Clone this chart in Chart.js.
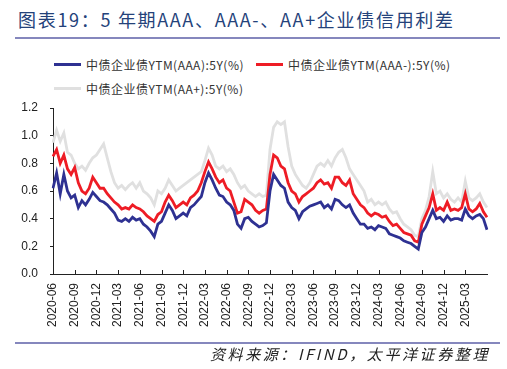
<!DOCTYPE html>
<html>
<head>
<meta charset="utf-8">
<script src="https://cdn.jsdelivr.net/npm/chart.js@4.4.1/dist/chart.umd.min.js"></script>
<style>
  html, body { margin: 0; padding: 0; background: #fff; }
  body { width: 507px; height: 369px; position: relative; overflow: hidden; font-family: "Noto Sans CJK SC", "Liberation Sans", sans-serif; }
  #title { position: absolute; left: 18px; top: 6px; font-size: 18px; letter-spacing: 1.7px; color: #24427a; white-space: nowrap; }
  .rule { position: absolute; left: 15px; width: 485px; height: 2px; background: #8587bd; }
  #legend { position: absolute; left: 54px; top: 52px; width: 440px; font-size: 12px; color: #333; letter-spacing: 0.5px; }
  .item { display: inline-flex; align-items: center; height: 22px; margin-right: 12px; white-space: nowrap; }
  .swatch { display: inline-block; width: 27px; height: 3px; margin-right: 5px; }
  #source { position: absolute; right: 17px; top: 343px; font-size: 15px; font-style: italic; letter-spacing: 2.6px; color: #222; white-space: nowrap; }
  #chart { position: absolute; left: 0; top: 0; }
</style>
</head>
<body>
<div id="title">图表19：5 年期AAA、AAA-、AA+企业债信用利差</div>
<div class="rule" style="top:37px"></div>
<div id="legend"></div>
<canvas id="chart" width="507" height="369"></canvas>
<div class="rule" style="top:342px"></div>
<div id="source">资料来源：IFIND，太平洋证券整理</div>

<script>
// categorias: fechas cada medio mes, 2020-06 a 2025-06
const fechas = [];
for (let i = 0; i <= 120; i++) {
    const mes = 5 + Math.floor(i / 2);
    const anio = 2020 + Math.floor(mes / 12);
    const mm = String(mes % 12 + 1).padStart(2, '0');
    fechas.push(`${anio}-${mm}-${i % 2 === 0 ? '01' : '16'}`);
}

const etiquetasX = ['2020-06','2020-09','2020-12','2021-03','2021-06','2021-09','2021-12','2022-03','2022-06','2022-09',
                    '2022-12','2023-03','2023-06','2023-09','2023-12','2024-03','2024-06','2024-09','2024-12','2025-03'];

// Series (%)
const serieAAA = [
    0.62,0.73,0.58,0.72,0.60,0.55,0.57,0.48,0.53,0.50,
    0.54,0.59,0.56,0.53,0.52,0.50,0.47,0.44,0.39,0.38,
    0.40,0.38,0.41,0.39,0.40,0.36,0.34,0.31,0.27,0.36,
    0.38,0.44,0.50,0.46,0.40,0.42,0.44,0.42,0.48,0.50,
    0.53,0.56,0.66,0.73,0.68,0.62,0.57,0.56,0.52,0.50,
    0.46,0.36,0.33,0.40,0.41,0.38,0.36,0.34,0.35,0.37,
    0.60,0.72,0.68,0.64,0.62,0.52,0.48,0.46,0.40,0.45,
    0.47,0.49,0.50,0.51,0.52,0.48,0.50,0.47,0.54,0.53,
    0.50,0.48,0.50,0.44,0.40,0.36,0.36,0.33,0.34,0.32,
    0.35,0.34,0.33,0.29,0.28,0.27,0.26,0.24,0.23,0.22,
    0.20,0.18,0.30,0.34,0.40,0.46,0.40,0.41,0.38,0.42,
    0.39,0.40,0.40,0.39,0.47,0.42,0.40,0.42,0.43,0.40,
    0.32
];
const serieAAAm = [
    0.85,0.90,0.80,0.86,0.76,0.72,0.77,0.66,0.60,0.58,
    0.62,0.70,0.66,0.62,0.62,0.58,0.55,0.52,0.50,0.47,
    0.48,0.47,0.50,0.48,0.47,0.45,0.42,0.40,0.38,0.43,
    0.45,0.52,0.57,0.53,0.48,0.50,0.52,0.50,0.55,0.57,
    0.60,0.66,0.74,0.81,0.76,0.70,0.66,0.68,0.62,0.60,
    0.52,0.44,0.45,0.54,0.52,0.50,0.46,0.44,0.46,0.47,
    0.72,0.86,0.84,0.78,0.76,0.66,0.60,0.58,0.52,0.56,
    0.58,0.60,0.62,0.66,0.68,0.65,0.66,0.62,0.70,0.70,
    0.66,0.64,0.68,0.58,0.54,0.50,0.48,0.44,0.42,0.44,
    0.43,0.41,0.42,0.38,0.35,0.36,0.33,0.30,0.29,0.28,
    0.24,0.23,0.36,0.42,0.48,0.58,0.46,0.48,0.46,0.52,
    0.46,0.47,0.46,0.48,0.58,0.47,0.45,0.47,0.51,0.45,
    0.41
];
const serieAAp = [
    0.95,1.04,0.96,1.02,0.88,0.86,0.80,0.76,0.78,0.75,
    0.80,0.84,0.86,0.90,0.94,0.84,0.74,0.66,0.62,0.64,
    0.61,0.64,0.66,0.62,0.66,0.60,0.58,0.55,0.50,0.60,
    0.58,0.62,0.68,0.64,0.60,0.62,0.64,0.66,0.68,0.70,
    0.72,0.74,0.82,0.91,0.86,0.78,0.76,0.78,0.74,0.76,
    0.72,0.66,0.62,0.64,0.60,0.58,0.56,0.58,0.56,0.57,
    0.90,1.06,1.10,1.08,1.10,0.92,0.78,0.72,0.68,0.64,
    0.62,0.66,0.72,0.78,0.80,0.78,0.82,0.78,0.84,0.88,
    0.90,0.84,0.76,0.72,0.68,0.64,0.60,0.52,0.54,0.50,
    0.52,0.50,0.52,0.47,0.44,0.45,0.40,0.36,0.34,0.32,
    0.28,0.27,0.40,0.46,0.56,0.74,0.58,0.60,0.55,0.58,
    0.54,0.52,0.55,0.52,0.67,0.55,0.53,0.55,0.58,0.52,
    0.48
];

const series = [
    { label: '中债企业债YTM(AAA):5Y(%)', data: serieAAA, color: '#2e3192' },
    { label: '中债企业债YTM(AAA-):5Y(%)', data: serieAAAm, color: '#ee1c25' },
    { label: '中债企业债YTM(AA+):5Y(%)', data: serieAAp, color: '#e0e0e0' }
];

// Leyenda en HTML
const leyenda = document.getElementById('legend');
series.forEach(s => {
    const span = document.createElement('span');
    span.className = 'item';
    span.innerHTML = `<span class="swatch" style="background:${s.color}"></span>${s.label}`;
    leyenda.appendChild(span);
});

// ticks hacia adentro en el eje x
const ticksInternos = {
    id: 'ticksInternos',
    afterDraw(chart) {
        const x = chart.scales.x;
        const ctx = chart.ctx;
        const base = chart.chartArea.bottom;
        ctx.save();
        ctx.strokeStyle = '#222';
        ctx.lineWidth = 1;
        etiquetasX.forEach((e, i) => {
            const px = Math.round(x.getPixelForValue(i * 6)) + 0.5;
            ctx.beginPath();
            ctx.moveTo(px, base);
            ctx.lineTo(px, base - 4);
            ctx.stroke();
        });
        ctx.restore();
    }
};

const ctx = document.getElementById('chart').getContext('2d');
new Chart(ctx, {
    type: 'line',
    data: {
        labels: fechas,
        datasets: series.map(s => ({
            label: s.label, data: s.data, borderColor: s.color,
            borderWidth: 2.8, pointRadius: 0, tension: 0, fill: false
        }))
    },
    options: {
        responsive: false,
        animation: false,
        devicePixelRatio: 1,
        layout: { padding: { top: 108, left: 17, right: 20, bottom: 39 } },
        plugins: { legend: { display: false }, tooltip: { enabled: false } },
        scales: {
            x: {
                grid: { display: false, drawTicks: false, tickLength: 0 },
                border: { color: '#222', width: 1 },
                afterFit: s => { s.height = 56; },
                ticks: {
                    autoSkip: false, maxRotation: 90, minRotation: 90, padding: 9,
                    color: '#222', font: { size: 12, family: 'Liberation Sans' },
                    callback: (v, i) => (i % 6 === 0 && etiquetasX[i / 6]) ? etiquetasX[i / 6] : null
                }
            },
            y: {
                min: 0, max: 1.2,
                grid: { display: true, drawOnChartArea: false, drawTicks: true, tickLength: 3, color: '#222' },
                border: { color: '#222', width: 1 },
                afterFit: s => { s.width = 36; },
                ticks: {
                    stepSize: 0.2, padding: 12, color: '#222',
                    font: { size: 12, family: 'Liberation Sans' },
                    callback: v => v.toFixed(1)
                }
            }
        }
    },
    plugins: [ticksInternos]
});
</script>
</body>
</html>
